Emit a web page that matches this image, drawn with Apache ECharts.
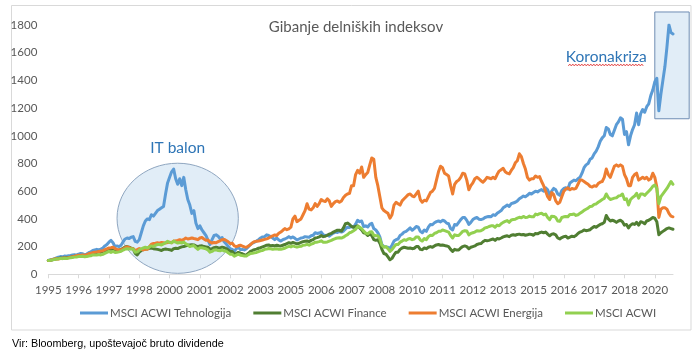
<!DOCTYPE html>
<html><head><meta charset="utf-8">
<script src="https://cdn.jsdelivr.net/npm/echarts@6/dist/echarts.min.js"></script>
<style>html,body{margin:0;padding:0;background:#fff}#c{width:697px;height:357px}</style>
</head><body><div id="c"></div>
<script>
// Monthly data, Jan 1995 - Oct 2020 (index 100 = Jan 1995)
const startYear = 1995, monthCount = 310;
const tickLabels = ['1995','1996','1997','1998','2000','2001','2002','2003','2005','2006','2007','2008','2010','2011','2012','2013','2015','2016','2017','2018','2020'];
const seriesNames = ['MSCI ACWI Tehnologija','MSCI ACWI Finance','MSCI ACWI Energija','MSCI ACWI'];

const tech = [
100,104,108,112,118,124,128,126,132,130,134,136,
140,142,138,146,150,148,140,146,156,162,172,176,
180,176,182,190,205,215,232,245,228,200,205,200,
210,235,255,262,258,268,272,238,232,250,300,350,
385,400,395,430,420,440,460,470,480,490,580,660,
700,740,760,690,650,690,640,700,610,540,500,440,
460,370,330,350,320,300,280,245,215,250,280,285,
275,255,265,235,220,200,185,180,165,185,195,178,
180,176,185,200,215,225,232,240,250,262,270,272,
285,280,272,262,250,262,248,240,250,255,262,272,
262,270,260,248,255,262,265,272,270,268,278,282,
300,295,298,305,285,280,282,275,288,298,305,302,
310,305,312,328,340,338,345,340,362,390,380,385,
345,350,342,360,368,330,320,300,270,215,200,198,
195,188,210,240,250,255,280,290,305,310,322,335,
318,330,345,340,310,300,320,310,340,360,358,372,
380,385,378,390,385,370,365,330,320,360,355,375,
395,410,410,390,360,375,395,405,410,398,395,400,
410,415,418,415,430,425,440,450,460,480,490,500,
490,510,515,520,530,545,555,565,560,570,585,580,
590,600,595,605,612,600,625,610,570,600,620,610,
580,570,605,620,625,615,660,670,680,675,690,700,
730,770,790,800,830,840,870,890,920,960,985,1000,
1060,1050,1010,1000,1040,1080,1100,1130,1120,1010,1030,935,
1000,1045,1080,1165,1080,1160,1190,1170,1210,1230,1290,1330,
1390,1415,1180,1300,1400,1500,1640,1800,1745,1735
];
const finance = [
100,102,104,108,112,114,118,116,120,118,122,124,
126,130,128,132,134,136,134,138,142,146,152,156,
158,162,160,165,170,176,182,180,184,176,174,176,
180,188,198,200,196,188,184,150,140,160,172,178,
182,184,188,190,185,182,180,176,172,180,182,180,
178,172,185,188,186,192,198,200,206,210,212,214,
212,205,200,205,206,200,198,196,180,185,192,196,
192,190,196,192,186,176,165,165,148,150,158,152,
148,142,140,152,165,172,178,182,188,192,198,204,
210,212,206,208,205,210,206,205,210,215,222,228,
224,230,225,220,224,230,236,238,240,236,245,250,
262,265,270,280,272,275,282,290,295,305,312,318,
318,312,335,365,370,360,345,340,345,350,335,320,
300,295,280,290,280,250,245,250,225,180,150,145,
125,105,115,140,160,160,180,190,195,192,188,190,
185,188,200,200,180,178,190,185,195,200,195,205,
212,215,210,212,208,205,200,180,165,180,175,175,
190,200,205,200,185,195,200,205,215,220,222,235,
245,242,245,250,255,245,258,255,262,270,275,278,
272,282,285,282,288,290,285,288,282,285,290,288,
282,295,292,300,305,300,305,290,278,290,292,285,
262,255,265,272,275,262,268,275,272,280,295,305,
310,320,315,318,322,335,345,340,350,360,365,375,
425,400,385,390,385,375,385,390,380,355,360,335,
355,365,360,375,355,380,375,365,385,390,400,410,
405,380,285,300,310,320,330,335,330,325
];
const energy = [
100,102,106,110,112,110,114,116,118,116,120,124,
127,130,134,138,136,140,138,142,148,152,156,160,
162,164,168,170,178,184,190,192,196,186,180,178,
176,182,192,198,192,186,184,172,178,186,180,176,
182,180,200,218,222,224,228,225,230,228,226,230,
232,228,240,242,245,250,244,252,262,255,258,262,
258,255,250,262,266,255,245,248,232,226,230,228,
236,242,250,252,244,235,222,224,205,200,206,210,
204,198,196,205,214,228,236,238,240,244,248,252,
256,262,270,278,284,280,296,305,318,330,322,328,
340,400,420,380,390,400,430,460,510,470,465,480,
510,490,510,540,530,525,545,530,490,510,525,530,
520,530,555,570,580,585,640,640,720,750,730,775,
700,720,735,790,840,830,700,640,560,480,460,450,
440,405,430,500,520,510,500,530,545,560,575,580,
565,560,580,600,540,520,535,530,560,590,600,620,
680,740,780,770,730,720,710,640,580,650,670,680,
700,730,725,680,610,640,660,690,700,690,675,665,
680,700,695,690,700,690,720,745,755,765,740,730,
725,750,770,805,820,870,850,800,760,700,680,690,
690,710,700,705,670,640,600,560,540,590,575,530,
510,520,560,600,615,625,610,620,615,620,650,680,
680,670,660,650,635,630,640,635,655,665,670,700,
760,720,700,740,780,790,780,790,780,720,690,640,
640,700,720,730,680,690,700,690,700,680,690,730,
700,630,410,470,480,480,470,440,420,415
];
const acwi = [
100,101,104,107,110,111,115,113,116,114,117,120,
122,124,125,128,128,130,126,128,132,134,140,140,
140,142,140,144,152,158,165,158,165,158,160,162,
166,175,182,184,182,182,182,160,162,175,184,190,
195,190,198,205,200,210,215,215,212,220,228,238,
230,228,240,232,226,230,226,232,220,212,200,205,
208,192,180,192,192,188,184,176,160,165,175,176,
172,170,176,168,168,155,145,145,130,138,145,138,
135,132,132,142,150,152,156,158,164,170,172,180,
182,186,184,180,182,185,180,180,184,188,196,202,
198,205,200,196,200,202,210,212,216,210,218,222,
232,232,236,242,232,232,234,240,245,252,258,262,
264,262,268,278,286,300,305,315,325,345,340,330,
312,298,292,305,308,282,278,278,255,210,195,200,
185,165,178,198,215,215,232,240,250,245,255,258,
250,255,270,270,248,240,258,250,272,282,280,295,
300,310,310,320,315,310,305,280,262,285,280,280,
295,310,315,312,285,295,300,305,315,312,315,322,
335,338,345,350,350,340,355,350,365,375,382,388,
375,392,395,398,405,412,408,418,410,412,420,415,
415,435,430,438,440,430,435,410,395,420,418,410,
385,382,410,415,418,415,432,432,435,425,430,440,
450,462,470,478,490,492,505,508,520,530,540,548,
580,555,540,545,550,552,565,568,580,540,545,500,
540,555,565,585,550,580,580,570,585,600,615,635,
645,620,510,560,580,600,620,645,670,650
];
const colors = ['#5B9BD5','#507E32','#ED7D31','#92D050'];

const categories = [];
for (let i = 0; i < monthCount; i++) {
  const y = startYear + Math.floor(i / 12), m = (i % 12) + 1;
  categories.push(y + '-' + (m < 10 ? '0' + m : m));
}
const labelEvery = 15;

const chart = echarts.init(document.getElementById('c'), null, {renderer: 'canvas'});
const lineSeries = [tech, finance, energy, acwi].map((d, i) => ({
  name: seriesNames[i], type: 'line', data: d, symbol: 'none', smooth: false,
  lineStyle: {width: 3, color: colors[i], cap: 'round', join: 'round'},
  itemStyle: {color: colors[i]}, z: 3 + i, animation: false
}));

chart.setOption({
  animation: false,
  backgroundColor: '#ffffff',
  title: {text: 'Gibanje delniških indeksov', left: 351, top: 15, textAlign: 'center',
    textStyle: {fontFamily: 'Lato', fontSize: 15, fontWeight: 'normal', color: '#595959'}},
  grid: {left: 48.3, right: 24, top: 25, bottom: 82.7, containLabel: false},
  legend: {bottom: 33, left: 75, itemWidth: 28, itemHeight: 3, itemGap: 22,
    icon: 'rect', data: seriesNames.map((n, i) => ({name: n, itemStyle: {color: colors[i]}})),
    textStyle: {fontFamily: 'Lato', fontSize: 11.5, color: '#595959', padding: [0, 0, 0, -3]}},
  xAxis: {type: 'category', data: categories, boundaryGap: false,
    axisLine: {lineStyle: {color: '#D9D9D9', width: 1}},
    axisTick: {show: true, interval: labelEvery - 1, length: 4, lineStyle: {color: '#D9D9D9'}},
    axisLabel: {interval: labelEvery - 1, color: '#595959', fontFamily: 'Lato', fontSize: 11.5, margin: 10,
      formatter: (v, idx) => (idx % labelEvery === 0 ? tickLabels[idx / labelEvery] : '')},
    splitLine: {show: false}},
  yAxis: {type: 'value', min: 0, max: 1800, interval: 200,
    axisLine: {show: false}, axisTick: {show: false}, splitLine: {show: false},
    axisLabel: {color: '#595959', fontFamily: 'Lato', fontSize: 11.5, margin: 11,
      formatter: v => String(v)}},
  series: lineSeries
});

// annotations positioned through the chart's own scales
const px = (i, v) => chart.convertToPixel({gridIndex: 0}, [i, v]);
const eTL = px(33.9, 802), eBR = px(93.6, 7);
const rTL = px(300.0, 1894), rBR = px(316.5, 1123);
const itPos = px(63.6, 915), koPos = px(275.8, 1569);
const wave = [];
for (let x = koPos[0] - 38; x <= koPos[0] + 38; x += 1.5) {
  wave.push([x, koPos[1] + 8 + ((Math.round((x - koPos[0]) / 1.5) % 2) ? 1 : -1)]);
}

chart.setOption({
  graphic: [
    {type: 'rect', shape: {x: 11.5, y: 5.5, width: 679.5, height: 324.5},
      style: {fill: 'none', stroke: '#D9D9D9', lineWidth: 1}, z: -10, silent: true},
    {type: 'ellipse', shape: {cx: (eTL[0] + eBR[0]) / 2, cy: (eTL[1] + eBR[1]) / 2,
      rx: (eBR[0] - eTL[0]) / 2, ry: (eBR[1] - eTL[1]) / 2},
      style: {fill: 'rgba(189,215,238,0.45)', stroke: '#8FA6C0', lineWidth: 1}, z: 1, silent: true},
    {type: 'rect', shape: {x: rTL[0], y: rTL[1], width: rBR[0] - rTL[0], height: rBR[1] - rTL[1]},
      style: {fill: 'rgba(189,215,238,0.45)', stroke: '#6F8DB3', lineWidth: 1}, z: 1, silent: true},
    {type: 'text', x: itPos[0], y: itPos[1], style: {text: 'IT balon', fill: '#2E75B6',
      font: '15.5px Lato', textAlign: 'center', textVerticalAlign: 'middle'}, z: 10, silent: true},
    {type: 'text', x: koPos[0], y: koPos[1], style: {text: 'Koronakriza', fill: '#2E75B6',
      font: '15.5px Lato', textAlign: 'center', textVerticalAlign: 'middle'}, z: 10, silent: true},
    {type: 'polyline', shape: {points: wave}, style: {stroke: '#E03030', lineWidth: 0.8, fill: 'none'}, z: 10, silent: true},
    {type: 'text', x: 12, y: 344.5, style: {text: 'Vir: Bloomberg, upoštevajoč bruto dividende', fill: '#000000',
      font: '10.8px "Liberation Sans", Arial', textAlign: 'left', textVerticalAlign: 'middle'}, z: 10, silent: true}
  ]
});
</script></body></html>
